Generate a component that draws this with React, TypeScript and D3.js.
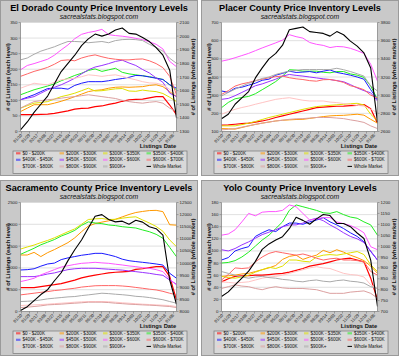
import React from "react";
import * as d3 from "d3";

// ---------- shared labels ----------
const seriesNames = [
  "$0 - $200K", "$200K - $300K", "$300K - $350K", "$350K - $400K",
  "$400K - $450K", "$450K - $500K", "$500K - $600K", "$600K - $700K",
  "$700K - $800K", "$800K - $900K", "$900K+", "Whole Market",
];
const seriesColors = [
  "#ff0000", "#ff9900", "#e0e000", "#22ee22",
  "#1a1aff", "#9933ff", "#ff55ff", "#ff6666",
  "#ffc4c4", "#dca0a0", "#aaaaaa", "#000000",
];
const xTickLabels = [
  "01/10", "01/29", "02/17", "03/08", "03/27", "04/15", "05/04", "05/23", "06/11", "06/30",
  "07/19", "08/07", "08/26", "09/14", "10/03", "10/22", "11/10", "11/29", "12/18", "01/06",
];

// ---------- El Dorado ----------
const edTicksL = [0, 50, 100, 150, 200, 250, 300, 350];
const edTicksR = [1300, 1400, 1500, 1600, 1700, 1800, 1900, 2000, 2100];
const ed0 = [54,54,54,55,56,58,62,66,72,74,75,80,82,87,91,97,102,103,104,108,112,112,85,54];
const ed200 = [64,75,86,86,86,91,97,104,112,120,128,132,134,139,142,143,142,143,144,148,150,144,128,112];
const ed300 = [75,83,91,93,96,104,112,117,123,131,139,130,131,134,137,138,130,129,133,130,128,122,110,96];
const ed350 = [118,126,134,140,146,153,163,171,180,187,196,201,193,198,203,190,185,182,179,176,172,167,150,134];
const ed400 = [102,110,118,128,138,139,139,136,148,155,160,160,160,163,167,170,174,180,179,175,171,167,150,139];
const ed450 = [102,107,112,123,134,142,150,160,171,185,198,207,212,218,225,229,220,212,199,188,172,158,123,112];
const ed500 = [198,212,218,225,232,245,262,278,298,312,318,322,328,311,308,306,303,299,295,288,280,265,225,208];
const ed600 = [177,185,193,199,206,216,228,230,227,236,242,246,240,235,232,230,230,232,233,227,218,205,177,118];
const ed700 = [139,147,155,152,150,158,166,169,171,176,182,180,177,180,182,177,171,166,160,156,155,150,135,118];
const ed800 = [75,86,96,99,102,104,107,110,112,115,118,115,112,109,106,100,96,93,91,94,96,91,75,64];
const ed900 = [230,236,248,258,265,272,281,289,289,288,285,287,289,285,292,295,296,295,292,280,270,258,235,219];
const edWhole = [1312,1370,1440,1500,1560,1650,1740,1800,1860,1930,1980,2015,2000,2015,2045,2060,2020,2015,1990,1960,1915,1860,1750,1400];

// ---------- Placer ----------
const plTicksL = [100, 200, 300, 400, 500, 600, 700];
const plTicksR = [2600, 2800, 3000, 3200, 3400, 3600, 3800];
const pl0 = [135,137,140,143,146,152,158,166,177,186,195,204,213,222,231,234,237,239,240,242,244,248,225,146];
const pl200 = [116,115,113,122,131,139,146,152,158,162,164,166,167,172,177,182,186,188,189,192,195,190,167,146];
const pl300 = [131,131,131,138,146,155,166,177,186,195,204,213,222,230,237,241,244,247,250,253,255,246,195,158];
const pl350 = [231,260,280,287,293,308,330,352,375,405,440,438,432,432,432,426,423,430,430,417,410,398,350,277];
const pl400 = [323,316,338,344,355,366,382,388,410,420,432,425,427,430,423,432,439,425,418,410,400,388,330,277];
const pl450 = [277,282,297,315,333,352,362,375,388,405,414,409,405,400,395,390,386,380,374,358,340,325,313,268];
const pl500 = [487,495,506,518,530,545,560,574,588,603,633,622,614,590,580,574,562,568,566,558,545,530,470,377];
const pl600 = [304,325,350,362,370,380,388,396,402,405,396,390,386,380,377,385,386,380,370,352,343,330,300,285];
const pl700 = [195,210,222,232,240,250,259,268,277,282,286,279,272,268,268,268,262,259,254,250,244,240,222,204];
const pl800 = [109,112,116,124,131,139,146,152,158,162,167,170,171,174,177,177,177,174,171,164,158,150,131,116];
const pl900 = [295,315,333,350,365,378,392,400,414,424,432,437,441,441,441,441,441,448,440,430,418,405,350,323];
const plWhole = [2740,2790,2900,2970,3040,3190,3300,3400,3460,3550,3720,3735,3750,3700,3690,3680,3650,3700,3665,3595,3540,3465,3300,2700];

// ---------- Sacramento ----------
const saTicksL = [0, 500, 1000, 1500, 2000, 2500];
const saTicksR = [8000, 8500, 9000, 9500, 10000, 10500, 11000, 11500, 12000, 12500];
const sa0 = [549,549,549,570,594,615,640,680,720,770,805,835,860,885,900,910,920,965,980,1005,1030,1030,800,267];
const sa200 = [1296,1296,1356,1260,1350,1420,1500,1580,1690,1830,1960,2015,2050,2080,2115,2170,2225,2270,2295,2315,2320,2290,1990,1980];
const sa300 = [1432,1480,1524,1580,1630,1690,1760,1830,1895,2000,2110,2125,2133,2110,2115,2140,2160,2172,2100,2030,1950,1840,1640,1486];
const sa350 = [1311,1380,1450,1530,1590,1650,1730,1790,1860,1975,2055,2030,2015,1985,1970,1945,1930,1915,1870,1830,1770,1680,1470,1257];
const sa400 = [952,960,980,1040,1090,1110,1190,1230,1260,1290,1310,1334,1334,1300,1260,1200,1165,1145,1128,1110,1090,1065,876,762];
const sa450 = [800,800,800,825,860,885,925,960,980,991,991,991,980,970,960,950,930,914,895,876,850,830,720,625];
const sa500 = [686,720,762,840,900,960,1020,1050,1080,1105,1115,1128,1115,1105,1085,1067,1045,1029,1005,991,960,915,740,610];
const sa600 = [381,400,420,440,457,480,495,515,533,560,575,590,594,594,594,585,572,552,533,512,495,462,419,381];
const sa700 = [137,145,152,160,168,180,190,200,213,222,229,229,229,225,213,200,190,178,168,160,152,144,137,114];
const sa800 = [91,100,114,130,152,160,168,180,190,200,213,213,213,205,190,180,168,160,152,145,137,125,114,91];
const sa900 = [229,235,244,265,290,305,320,335,343,365,381,400,419,410,396,385,370,348,338,320,295,270,229,190];
const saWhole = [8040,8200,8450,8700,8900,9270,9600,10100,10550,10950,11450,11930,12000,11800,11700,11730,11600,11770,11690,11500,11420,11150,9300,8300];

// ---------- Yolo ----------
const yoTicksL = [0, 20, 40, 60, 80, 100, 120, 140, 160, 180];
const yoTicksR = [700, 750, 800, 850, 900, 950, 1000, 1050, 1100, 1150, 1200];
const yo0 = [49,54,58,59,59,60,60,61,62,63,65,68,71,75,77,79,82,85,87,88,85,82,55,19];
const yo200 = [58,59,60,62,63,66,69,72,76,86,91,93,86,90,93,101,97,102,98,93,89,84,75,63];
const yo300 = [58,56,55,57,60,65,69,73,71,75,85,85,83,82,90,93,94,93,95,97,99,94,77,66];
const yo350 = [80,81,84,90,98,108,118,126,137,148,167,176,173,170,167,163,162,165,160,156,154,148,143,126];
const yo400 = [85,89,100,104,107,124,130,135,132,140,146,146,144,148,151,155,148,143,137,130,124,115,99,85];
const yo450 = [102,100,104,110,115,121,127,131,135,140,143,143,146,151,154,150,143,137,130,124,120,114,100,85];
const yo500 = [126,128,135,148,162,158,164,165,165,167,176,173,162,151,153,155,155,148,145,142,137,130,107,102];
const yo600 = [52,61,72,71,72,82,90,96,99,97,95,93,95,92,88,85,87,88,85,85,84,82,66,60];
const yo700 = [49,48,47,48,49,52,55,57,58,60,63,66,69,72,74,72,71,67,63,61,60,57,44,38];
const yo800 = [38,41,44,42,41,38,36,39,41,39,38,38,38,37,36,33,30,30,30,32,33,34,30,22];
const yo900 = [66,63,60,57,55,57,58,56,55,53,52,50,49,51,52,50,49,51,52,50,49,47,41,38];
const yoWhole = [769,790,822,853,885,930,985,1010,1028,1043,1080,1132,1118,1100,1125,1145,1140,1104,1104,1089,1060,1035,936,723];

const FONT = "'Liberation Sans', Arial, sans-serif";
const PW = 198;
const PH = 176;
const PL = { l: 20.5, r: 176.5, t: 22.5, b: 131.5 };

type PanelProps = {
  ox: number; oy: number; title: string;
  ticksL: number[]; ticksR: number[];
  series: number[][]; whole: number[];
};

function Panel({ ox, oy, title, ticksL, ticksR, series, whole }: PanelProps) {
  const x = d3.scaleLinear().domain([0, whole.length - 1]).range([PL.l, PL.r]);
  const yL = d3.scaleLinear().domain([ticksL[0], ticksL[ticksL.length - 1]]).range([PL.b, PL.t]);
  const yR = d3.scaleLinear().domain([ticksR[0], ticksR[ticksR.length - 1]]).range([PL.b, PL.t]);
  const lineL = d3.line<number>().x((_, i) => x(i)).y((d) => yL(d));
  const lineR = d3.line<number>().x((_, i) => x(i)).y((d) => yR(d));
  const xt = d3.scalePoint<string>().domain(xTickLabels).range([PL.l + 1, PL.r - 3]);
  const midY = (PL.t + PL.b) / 2;
  const legCols = [16, 59.5, 103, 146.5];
  const legRows = [154.5, 161, 167.6];
  return (
    <g transform={`translate(${ox},${oy})`} fontFamily={FONT}>
      <rect x={0.5} y={0.5} width={PW - 1} height={PH - 1} fill="#c9c9c9" stroke="#9a9a9a" />
      <text x={PW / 2} y={10.5} textAnchor="middle" fontWeight="bold" fontSize={9.2} fill="#000">{title}</text>
      <text x={PW / 2} y={19} textAnchor="middle" fontStyle="italic" fontSize={6.8} fill="#111">sacrealstats.blogspot.com</text>
      <rect x={PL.l} y={PL.t} width={PL.r - PL.l} height={PL.b - PL.t} fill="#ffffff" />
      {ticksL.map((t) => (
        <line key={"g" + t} x1={PL.l} x2={PL.r} y1={yL(t)} y2={yL(t)} stroke="#d8d8d8" strokeWidth={0.8} />
      ))}
      {series.map((s, k) => (
        <path key={k} d={lineL(s) || ""} fill="none" stroke={seriesColors[k]} strokeWidth={k === 0 ? 1.2 : 1} strokeLinejoin="round" />
      ))}
      <path d={lineR(whole) || ""} fill="none" stroke="#000" strokeWidth={1.1} strokeLinejoin="round" />
      <line x1={PL.l} x2={PL.l} y1={PL.t} y2={PL.b} stroke="#888" strokeWidth={0.8} />
      <line x1={PL.r} x2={PL.r} y1={PL.t} y2={PL.b} stroke="#888" strokeWidth={0.8} />
      <line x1={PL.l} x2={PL.r} y1={PL.b} y2={PL.b} stroke="#888" strokeWidth={0.8} />
      {ticksL.map((t) => (
        <g key={"l" + t}>
          <line x1={PL.l - 2} x2={PL.l} y1={yL(t)} y2={yL(t)} stroke="#777" strokeWidth={0.6} />
          <text x={PL.l - 3} y={yL(t) + 1.5} textAnchor="end" fontSize={4.4} fill="#222">{t}</text>
        </g>
      ))}
      {ticksR.map((t) => (
        <g key={"r" + t}>
          <line x1={PL.r} x2={PL.r + 2} y1={yR(t)} y2={yR(t)} stroke="#777" strokeWidth={0.6} />
          <text x={PL.r + 3} y={yR(t) + 1.5} textAnchor="start" fontSize={4.4} fill="#222">{t}</text>
        </g>
      ))}
      {xTickLabels.map((lab) => (
        <g key={"x" + lab}>
          <line x1={xt(lab)} x2={xt(lab)} y1={PL.b} y2={PL.b + 2} stroke="#777" strokeWidth={0.6} />
          <text transform={`translate(${(xt(lab) || 0) + 1},${PL.b + 4}) rotate(-45)`} textAnchor="end" fontSize={4.2} fill="#222">{lab}</text>
        </g>
      ))}
      <text x={158} y={148} textAnchor="middle" fontWeight="bold" fontSize={5.8} fill="#111">Listings Date</text>
      <text transform={`translate(9.5,${midY}) rotate(-90)`} textAnchor="middle" fontWeight="bold" fontSize={5.8} fill="#111"># of Listings (each level)</text>
      <text transform={`translate(195,${midY}) rotate(-90)`} textAnchor="middle" fontWeight="bold" fontSize={5.8} fill="#111"># of Listings (whole market)</text>
      <rect x={13} y={151} width={174} height={22.5} fill="#d9d9d9" stroke="#777" strokeWidth={0.7} />
      {seriesNames.map((name, k) => {
        const cx = legCols[k % 4];
        const cy = legRows[Math.floor(k / 4)];
        return (
          <g key={"leg" + k}>
            <line x1={cx} x2={cx + 4.5} y1={cy - 1.2} y2={cy - 1.2} stroke={seriesColors[k]} strokeOpacity={k === 11 ? 1 : 0.55} strokeWidth={k === 11 ? 1 : 2.2} />
            <text x={cx + 6.5} y={cy} fontSize={4.6} fill="#111">{name}</text>
          </g>
        );
      })}
    </g>
  );
}

export default function App() {
  return (
    <svg width={400} height={356} style={{ position: "absolute", left: 0, top: 0, background: "#fff" }}>
      <Panel ox={0} oy={0} title="El Dorado County Price Inventory Levels" ticksL={edTicksL} ticksR={edTicksR}
        series={[ed0, ed200, ed300, ed350, ed400, ed450, ed500, ed600, ed700, ed800, ed900]} whole={edWhole} />
      <Panel ox={201} oy={0} title="Placer County Price Inventory Levels" ticksL={plTicksL} ticksR={plTicksR}
        series={[pl0, pl200, pl300, pl350, pl400, pl450, pl500, pl600, pl700, pl800, pl900]} whole={plWhole} />
      <Panel ox={0} oy={180} title="Sacramento County Price Inventory Levels" ticksL={saTicksL} ticksR={saTicksR}
        series={[sa0, sa200, sa300, sa350, sa400, sa450, sa500, sa600, sa700, sa800, sa900]} whole={saWhole} />
      <Panel ox={201} oy={180} title="Yolo County Price Inventory Levels" ticksL={yoTicksL} ticksR={yoTicksR}
        series={[yo0, yo200, yo300, yo350, yo400, yo450, yo500, yo600, yo700, yo800, yo900]} whole={yoWhole} />
    </svg>
  );
}
